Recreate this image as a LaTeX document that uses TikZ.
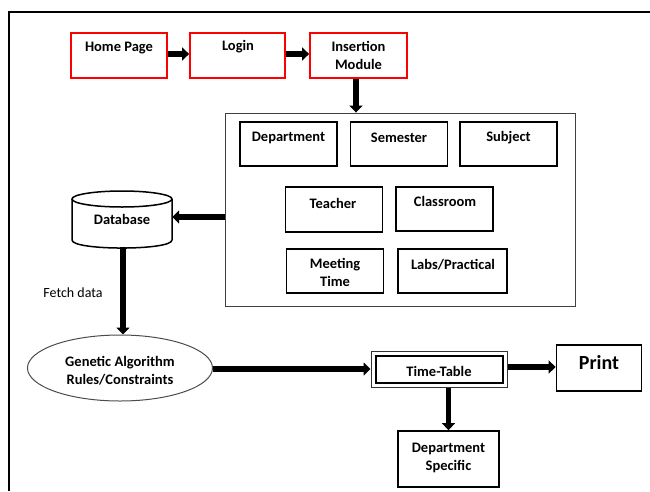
\documentclass[tikz,border=0pt]{standalone}
\usepackage{fontspec}
\setmainfont{Carlito}
\usetikzlibrary{arrows.meta,shapes.geometric,calc}
\begin{document}
\begin{tikzpicture}[x=1pt,y=-1pt,
  box/.style={draw=black, line width=1.7pt, inner sep=0pt},
  rbox/.style={draw=red, line width=1.8pt, inner sep=0pt},
  txt/.style={font=\bfseries\fontsize{14.5}{18}\selectfont, align=center, inner sep=0pt},
  arr/.style={line width=5.5pt, -{Triangle[length=7pt,width=13pt]}},
]
\useasboundingbox (0,0) rectangle (650,491);
% outer frame (top and left only)
\draw[line width=2.6pt] (9,491) -- (9,12) -- (650,12);

% top row
\node[rbox, minimum width=96pt, minimum height=45pt] (home) at (119,55.5) {};
\node[txt] (homet) at (119,48) {Home Page};
\node[rbox, minimum width=95pt, minimum height=45pt] (login) at (237.5,55.5) {};
\node[txt] (logint) at (238,47) {Login};
\node[rbox, minimum width=97pt, minimum height=45pt] (ins) at (358.5,55.5) {};
\node[txt] (inst) at (358.5,55) {Insertion\\Module};

% big module box
\node[draw=black!75, line width=0.9pt, minimum width=350pt, minimum height=193pt, inner sep=0pt] (big) at (400,209.5) {};
\node[box, minimum width=97pt, minimum height=44pt] (dept) at (288.5,144) {};
\node[txt] (deptt) at (288.5,138) {Department};
\node[box, minimum width=97pt, minimum height=44pt] (sem) at (399,144) {};
\node[txt] (semt) at (399,138) {Semester};
\node[box, minimum width=97pt, minimum height=44pt] (subj) at (508.5,144) {};
\node[txt] (subjt) at (508.5,138) {Subject};
\node[box, minimum width=97pt, minimum height=45pt] (teach) at (334,209.5) {};
\node[txt] (teacht) at (333,203) {Teacher};
\node[box, minimum width=97pt, minimum height=44pt] (class) at (444.5,209) {};
\node[txt] (classt) at (445,201.5) {Classroom};
\node[box, minimum width=97pt, minimum height=44pt] (meet) at (335,271) {};
\node[txt] (meett) at (335,272.5) {Meeting\\Time};
\node[box, minimum width=109pt, minimum height=44pt] (labs) at (452.5,271) {};
\node[txt] (labst) at (453,265) {Labs/Practical};

% database cylinder
\node[minimum width=100pt, minimum height=56pt, inner sep=0pt] (db) at (122,219) {};
\draw[line width=1.5pt] (122,199) ellipse [x radius=50, y radius=8];
\draw[line width=1.5pt] (72,199) -- (72,240) .. controls (72,250.7) and (172,250.7) .. (172,240) -- (172,199);
\node[txt] (dbt) at (122,219) {Database};

\node[font=\fontsize{14}{16}\selectfont, inner sep=0pt] (fetch) at (73,293) {Fetch data};

% genetic algorithm ellipse
\node[ellipse, draw=black!70, line width=1pt, minimum width=185pt, minimum height=66pt, inner sep=0pt] (ga) at (120,368) {};
\node[txt] (gat) at (120,371) {Genetic Algorithm\\Rules/Constraints};

% time table
\node[draw=black!80, line width=1pt, minimum width=136pt, minimum height=36pt, inner sep=0pt] (tt) at (439,369) {};
\draw[line width=2pt] ([shift={(5,5)}]tt.north west) rectangle ([shift={(-5,-5)}]tt.south east);
\node[txt] (ttt) at (439,371) {Time-Table};

\node[box, minimum width=85pt, minimum height=46pt] (print) at (599,368) {};
\node[font=\bfseries\fontsize{20}{24}\selectfont, inner sep=0pt] (printt) at (599,363) {Print};

\node[box, minimum width=101pt, minimum height=56pt] (spec) at (448.5,459) {};
\node[txt] (spect) at (448.5,457.5) {Department\\Specific};

% connectors
\draw[arr] (home.east |- 0,54) -- (login.west |- 0,54);
\draw[arr] (login.east |- 0,54) -- (ins.west |- 0,54);
\draw[arr] (ins.south -| 356,0) -- (big.north -| 356,0);
\draw[arr] (big.west |- 0,217) -- (db.east |- 0,217);
\draw[arr] (db.south -| 123,0) -- (ga.north -| 123,0);
\draw[arr] (ga.east |- 0,369) -- (tt.west |- 0,369);
\draw[arr] (tt.east |- 0,367) -- (print.west |- 0,367);
\draw[arr] (tt.south -| spec.north) -- (spec.north);
\end{tikzpicture}
\end{document}
